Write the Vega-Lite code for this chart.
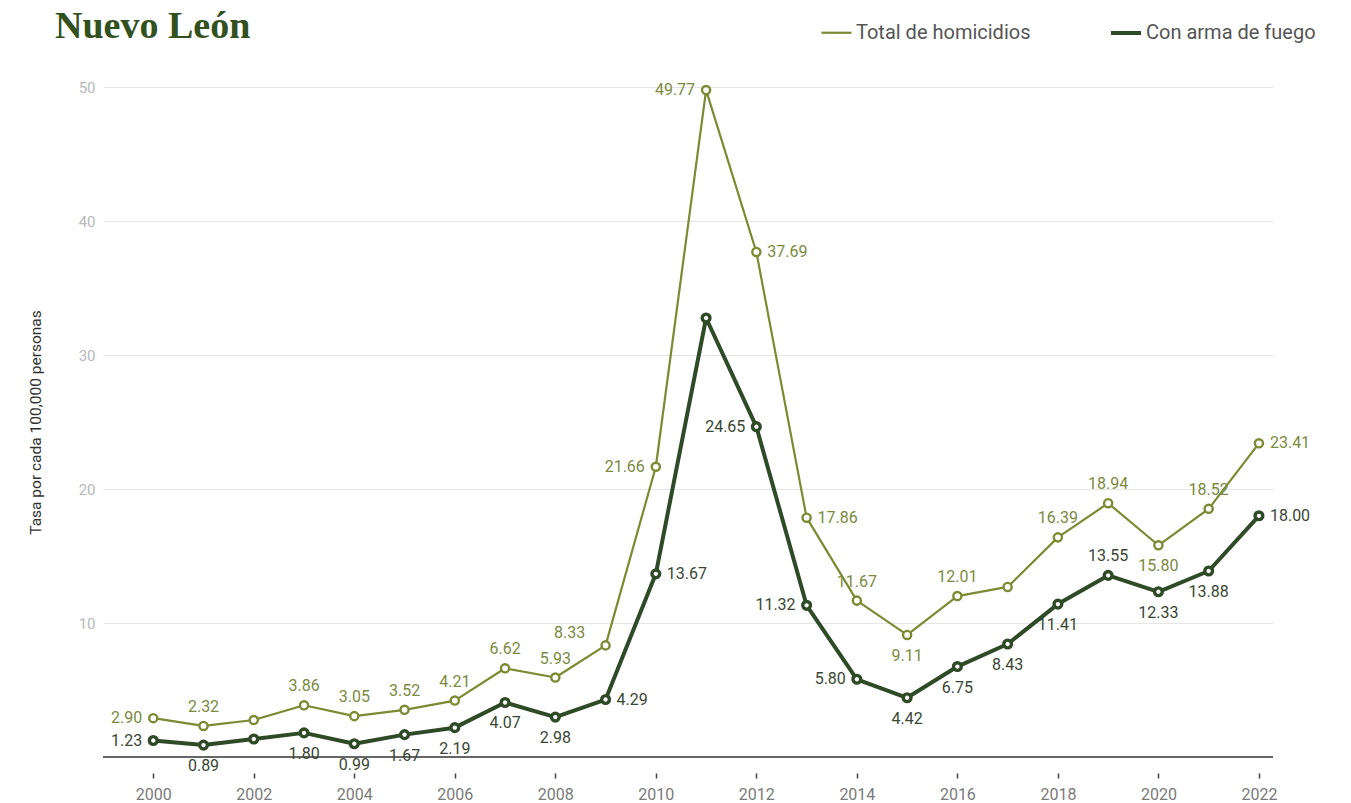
{
  "$schema": "https://vega.github.io/schema/vega-lite/v6.json",
  "width": 1170,
  "height": 670,
  "autosize": "none",
  "padding": {"left": 103, "top": 87, "right": 78, "bottom": 46},
  "background": "white",
  "config": {"view": {"stroke": null}, "font": "Roboto"},
  "title": {
    "text": "Nuevo León",
    "anchor": "start",
    "frame": "group",
    "font": "Liberation Serif",
    "fontSize": 38,
    "fontWeight": "bold",
    "color": "#33501f",
    "baseline": "alphabetic",
    "dx": -48,
    "offset": -60
  },
  "data": {
    "values": [
      {"year": 2000, "series": "Total de homicidios", "value": 2.90},
      {"year": 2001, "series": "Total de homicidios", "value": 2.32},
      {"year": 2002, "series": "Total de homicidios", "value": 2.76},
      {"year": 2003, "series": "Total de homicidios", "value": 3.86},
      {"year": 2004, "series": "Total de homicidios", "value": 3.05},
      {"year": 2005, "series": "Total de homicidios", "value": 3.52},
      {"year": 2006, "series": "Total de homicidios", "value": 4.21},
      {"year": 2007, "series": "Total de homicidios", "value": 6.62},
      {"year": 2008, "series": "Total de homicidios", "value": 5.93},
      {"year": 2009, "series": "Total de homicidios", "value": 8.33},
      {"year": 2010, "series": "Total de homicidios", "value": 21.66},
      {"year": 2011, "series": "Total de homicidios", "value": 49.77},
      {"year": 2012, "series": "Total de homicidios", "value": 37.69},
      {"year": 2013, "series": "Total de homicidios", "value": 17.86},
      {"year": 2014, "series": "Total de homicidios", "value": 11.67},
      {"year": 2015, "series": "Total de homicidios", "value": 9.11},
      {"year": 2016, "series": "Total de homicidios", "value": 12.01},
      {"year": 2017, "series": "Total de homicidios", "value": 12.69},
      {"year": 2018, "series": "Total de homicidios", "value": 16.39},
      {"year": 2019, "series": "Total de homicidios", "value": 18.94},
      {"year": 2020, "series": "Total de homicidios", "value": 15.80},
      {"year": 2021, "series": "Total de homicidios", "value": 18.52},
      {"year": 2022, "series": "Total de homicidios", "value": 23.41},
      {"year": 2000, "series": "Con arma de fuego", "value": 1.23},
      {"year": 2001, "series": "Con arma de fuego", "value": 0.89},
      {"year": 2002, "series": "Con arma de fuego", "value": 1.34},
      {"year": 2003, "series": "Con arma de fuego", "value": 1.80},
      {"year": 2004, "series": "Con arma de fuego", "value": 0.99},
      {"year": 2005, "series": "Con arma de fuego", "value": 1.67},
      {"year": 2006, "series": "Con arma de fuego", "value": 2.19},
      {"year": 2007, "series": "Con arma de fuego", "value": 4.07},
      {"year": 2008, "series": "Con arma de fuego", "value": 2.98},
      {"year": 2009, "series": "Con arma de fuego", "value": 4.29},
      {"year": 2010, "series": "Con arma de fuego", "value": 13.67},
      {"year": 2011, "series": "Con arma de fuego", "value": 32.76},
      {"year": 2012, "series": "Con arma de fuego", "value": 24.65},
      {"year": 2013, "series": "Con arma de fuego", "value": 11.32},
      {"year": 2014, "series": "Con arma de fuego", "value": 5.80},
      {"year": 2015, "series": "Con arma de fuego", "value": 4.42},
      {"year": 2016, "series": "Con arma de fuego", "value": 6.75},
      {"year": 2017, "series": "Con arma de fuego", "value": 8.43},
      {"year": 2018, "series": "Con arma de fuego", "value": 11.41},
      {"year": 2019, "series": "Con arma de fuego", "value": 13.55},
      {"year": 2020, "series": "Con arma de fuego", "value": 12.33},
      {"year": 2021, "series": "Con arma de fuego", "value": 13.88},
      {"year": 2022, "series": "Con arma de fuego", "value": 18.00}
    ]
  },
  "encoding": {
    "x": {
      "field": "year",
      "type": "quantitative",
      "scale": {"domain": [1999, 2022.28], "nice": false, "zero": false},
      "axis": {
        "values": [2000, 2002, 2004, 2006, 2008, 2010, 2012, 2014, 2016, 2018, 2020, 2022],
        "format": "d",
        "title": null,
        "domain": false,
        "grid": false,
        "offset": 16,
        "tickSize": 5,
        "tickWidth": 1.5,
        "tickColor": "#444",
        "labelPadding": 8,
        "labelFontSize": 16,
        "labelColor": "#7a7a7a",
        "labelFont": "Roboto"
      }
    },
    "y": {
      "field": "value",
      "type": "quantitative",
      "scale": {"domain": [0, 50], "nice": false},
      "axis": {
        "values": [10, 20, 30, 40, 50],
        "title": "Tasa por cada 100,000 personas",
        "titleFont": "Roboto",
        "titleFontSize": 15.5,
        "titleFontWeight": "normal",
        "titleColor": "#333",
        "titlePadding": 35,
        "domain": false,
        "ticks": false,
        "grid": true,
        "gridColor": "#e6e6e6",
        "gridWidth": 1,
        "labelPadding": 8,
        "labelFontSize": 15,
        "labelColor": "#b8b8b8",
        "labelFont": "Roboto"
      }
    }
  },
  "layer": [
    {
      "data": {"values": [{"base": 0}]},
      "mark": {"type": "rule", "color": "#333", "strokeWidth": 1.5},
      "encoding": {"y": {"field": "base", "type": "quantitative"}, "x": null}
    },
    {
      "mark": {"type": "line", "strokeJoin": "round"},
      "encoding": {
        "color": {
          "field": "series",
          "type": "nominal",
          "scale": {"domain": ["Total de homicidios", "Con arma de fuego"], "range": ["#7b8a33", "#2e4a27"]},
          "legend": {
            "orient": "none",
            "legendX": 717,
            "legendY": -71,
            "direction": "horizontal",
            "title": null,
            "symbolType": "stroke",
            "symbolSize": 900,
            "symbolStrokeWidth": 3,
            "labelFontSize": 20,
            "labelFont": "Roboto",
            "labelColor": "#555",
            "labelOffset": 3,
            "labelLimit": 400,
            "columnPadding": 72
          }
        },
        "strokeWidth": {
          "field": "series",
          "type": "nominal",
          "scale": {"domain": ["Total de homicidios", "Con arma de fuego"], "range": [2.2, 4]},
          "legend": null
        }
      }
    },
    {
      "transform": [{"filter": "datum.series === 'Total de homicidios'"}],
      "mark": {"type": "point", "shape": "circle", "filled": true, "fill": "white", "stroke": "#7b8a33", "strokeWidth": 2.4, "size": 66, "opacity": 1}
    },
    {
      "transform": [{"filter": "datum.series === 'Con arma de fuego'"}],
      "mark": {"type": "point", "shape": "circle", "filled": true, "fill": "white", "stroke": "#2e4a27", "strokeWidth": 3.4, "size": 60, "opacity": 1}
    },
    {
      "transform": [{"filter": "indexof(['T2000','T2010','T2011','F2000','F2012','F2013','F2014'], (datum.series === 'Total de homicidios' ? 'T' : 'F') + datum.year) >= 0"}],
      "mark": {"type": "text", "align": "right", "baseline": "middle", "dx": -11, "fontSize": 16, "font": "Roboto"},
      "encoding": {
        "text": {"field": "value", "type": "quantitative", "format": ".2f"},
        "color": {"condition": {"test": "datum.series === 'Total de homicidios'", "value": "#7b8a3f"}, "value": "#3a4634"}
      }
    },
    {
      "transform": [{"filter": "indexof(['T2012','T2013','T2022','F2009','F2010','F2022'], (datum.series === 'Total de homicidios' ? 'T' : 'F') + datum.year) >= 0"}],
      "mark": {"type": "text", "align": "left", "baseline": "middle", "dx": 11, "fontSize": 16, "font": "Roboto"},
      "encoding": {
        "text": {"field": "value", "type": "quantitative", "format": ".2f"},
        "color": {"condition": {"test": "datum.series === 'Total de homicidios'", "value": "#7b8a3f"}, "value": "#3a4634"}
      }
    },
    {
      "transform": [{"filter": "indexof(['T2001','T2003','T2004','T2005','T2006','T2007','T2008','T2014','T2016','T2018','T2019','T2021','F2019'], (datum.series === 'Total de homicidios' ? 'T' : 'F') + datum.year) >= 0"}],
      "mark": {"type": "text", "align": "center", "baseline": "middle", "dy": -19, "fontSize": 16, "font": "Roboto"},
      "encoding": {
        "text": {"field": "value", "type": "quantitative", "format": ".2f"},
        "color": {"condition": {"test": "datum.series === 'Total de homicidios'", "value": "#7b8a3f"}, "value": "#3a4634"}
      }
    },
    {
      "transform": [{"filter": "indexof(['T2015','T2020','F2001','F2003','F2004','F2005','F2006','F2007','F2008','F2015','F2016','F2017','F2018','F2020','F2021'], (datum.series === 'Total de homicidios' ? 'T' : 'F') + datum.year) >= 0"}],
      "mark": {"type": "text", "align": "center", "baseline": "middle", "dy": 21, "fontSize": 16, "font": "Roboto"},
      "encoding": {
        "text": {"field": "value", "type": "quantitative", "format": ".2f"},
        "color": {"condition": {"test": "datum.series === 'Total de homicidios'", "value": "#7b8a3f"}, "value": "#3a4634"}
      }
    },
    {
      "transform": [{"filter": "datum.series === 'Total de homicidios' && datum.year === 2009"}],
      "mark": {"type": "text", "align": "center", "baseline": "middle", "dx": -36, "dy": -12, "fontSize": 16, "font": "Roboto", "color": "#7b8a3f"},
      "encoding": {
        "text": {"field": "value", "type": "quantitative", "format": ".2f"}
      }
    }
  ]
}
